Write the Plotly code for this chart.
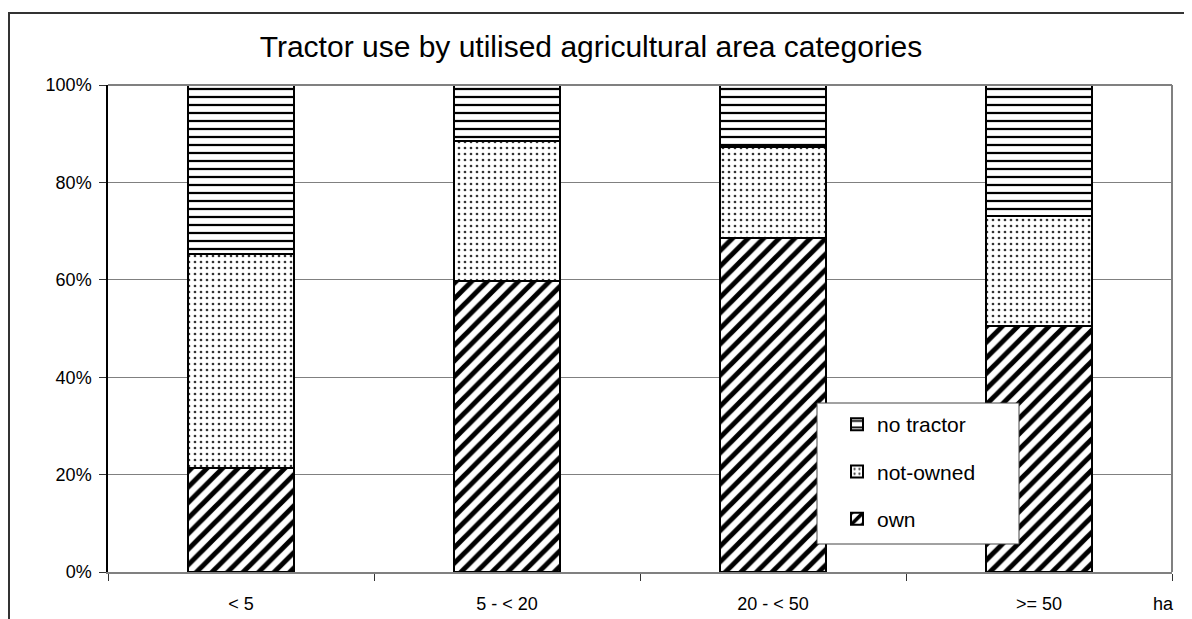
import plotly.graph_objects as go

categories = ["< 5", "5 - < 20", "20 - < 50", ">= 50"]
own = [21.4, 59.8, 68.6, 50.5]
not_owned = [43.9, 28.7, 18.7, 22.6]
no_tractor = [34.7, 11.5, 12.7, 26.9]
y_ticks = [0, 20, 40, 60, 80, 100]
y_tick_labels = ["0%", "20%", "40%", "60%", "80%", "100%"]

FONT = "Liberation Sans, Arial, sans-serif"

# page body has an 8px margin; figure coordinates are page coordinates minus 8
W, H = 1184, 611
L, T = 100, 77
PW, PH = 1064, 487
R, B = W - L - PW, H - T - PH


def px(xp):
    return (xp - 8 - L) / PW


def py(yp):
    return (T + PH - (yp - 8)) / PH


fig = go.Figure()
series = [
    ("own", own, "/", 11, 0.45, "black", 3),
    ("not-owned", not_owned, ".", 6, 0.16, "#333333", 2),
    ("no tractor", no_tractor, "-", 8, 0.28, "black", 1),
]
for name, vals, shape, size, sol, fg, rank in series:
    fig.add_trace(go.Bar(
        x=categories, y=vals, name=name, width=0.4,
        legendrank=rank, legendgroup=name,
        marker=dict(
            color="white",
            line=dict(color="black", width=2),
            pattern=dict(shape=shape, size=size, solidity=sol,
                         fgcolor=fg, bgcolor="white", fillmode="replace"),
        ),
    ))

fig.update_layout(
    width=W, height=H,
    margin=dict(l=L, r=R, t=T, b=B, autoexpand=False),
    barmode="stack",
    paper_bgcolor="white", plot_bgcolor="white",
    font=dict(family=FONT, size=18, color="black"),
    title=dict(text="Tractor use by utilised agricultural area categories",
               x=(591 - 8) / W, xanchor="center", y=1 - (46 - 8) / H, yanchor="middle",
               font=dict(size=30, family=FONT, color="black")),
    legend=dict(x=px(837), y=py(404), xanchor="left", yanchor="top",
                bgcolor="rgba(0,0,0,0)", borderwidth=0,
                traceorder="grouped", tracegroupgap=17,
                font=dict(size=21, family=FONT),
                itemwidth=30),
    showlegend=True,
)
fig.update_xaxes(
    type="category", range=[-0.5, 3.5],
    showline=True, linecolor="#808080", linewidth=1.5,
    ticks="outside", tickson="boundaries", ticklen=7, tickcolor="#333333",
    showgrid=False, tickfont=dict(size=18, family=FONT),
    ticklabelstandoff=15,
)
fig.update_yaxes(
    range=[0, 100], tickmode="array", tickvals=y_ticks, ticktext=y_tick_labels,
    showline=True, linecolor="black", linewidth=1.5,
    ticks="outside", ticklen=7, tickcolor="#333333",
    showgrid=True, gridcolor="#808080", gridwidth=1,
    zeroline=False, tickfont=dict(size=18, family=FONT),
    ticklabelstandoff=4,
)

# plot area right and top border
fig.add_shape(type="line", xref="paper", yref="paper", x0=1, x1=1, y0=0, y1=1,
              line=dict(color="#808080", width=2))
fig.add_shape(type="line", xref="paper", yref="paper", x0=0, x1=1, y0=1, y1=1,
              line=dict(color="#808080", width=2))
# outer frame
fig.add_shape(type="rect", xref="paper", yref="paper",
              x0=px(9), x1=1.2, y0=-0.3, y1=py(13),
              line=dict(color="#333333", width=2), layer="below")
# legend box
fig.add_shape(type="rect", xref="paper", yref="paper",
              x0=px(817), x1=px(1019), y0=py(544), y1=py(403),
              fillcolor="white", line=dict(color="#444444", width=1), layer="above")

fig.add_annotation(text="ha", xref="paper", yref="paper",
                   x=px(1163), y=py(604),
                   xanchor="center", yanchor="middle", showarrow=False,
                   font=dict(size=18, family=FONT))

fig.write_html("out.html")
